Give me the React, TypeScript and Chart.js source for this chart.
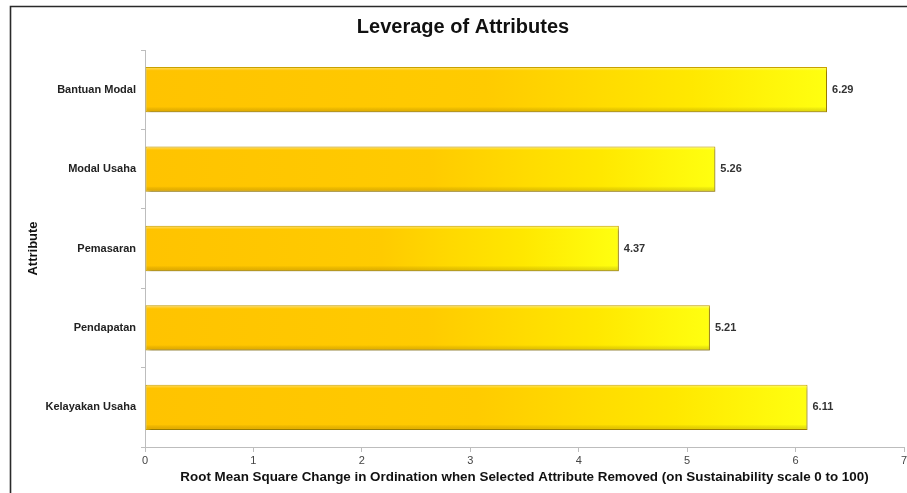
import React, { useEffect, useRef } from "react";
import { Chart, registerables } from "chart.js";

Chart.register(...registerables);

const categories = ["Bantuan Modal", "Modal Usaha", "Pemasaran", "Pendapatan", "Kelayakan Usaha"];
const values = [6.29, 5.26, 4.37, 5.21, 6.11];
const xTicks = [0, 1, 2, 3, 4, 5, 6, 7];
const titleText = "Leverage of Attributes";
const xTitle = "Root Mean Square Change in Ordination when Selected Attribute Removed (on Sustainability scale 0 to 100)";
const yTitle = "Attribute";

const FONT = "'Liberation Sans', Arial, sans-serif";

export default function App() {
  const ref = useRef<HTMLCanvasElement | null>(null);

  useEffect(() => {
    const canvas = ref.current;
    if (!canvas) return;

    const framePlugin = {
      id: "frame",
      beforeDraw(chart: any) {
        const c = chart.ctx;
        c.save();
        c.fillStyle = "#ffffff";
        c.fillRect(0, 0, chart.width, chart.height);
        c.strokeStyle = "#2a2a2a";
        c.lineWidth = 1.6;
        c.beginPath();
        c.moveTo(10.5, chart.height);
        c.lineTo(10.5, 6.5);
        c.lineTo(chart.width, 6.5);
        c.stroke();
        c.restore();
      },
      afterDraw(chart: any) {
        const c = chart.ctx;
        c.save();
        c.font = `bold 20px ${FONT}`;
        c.fillStyle = "#111";
        c.textAlign = "center";
        c.textBaseline = "middle";
        c.fillText(titleText, 463, 27);
        c.restore();
      },
    };

    const shadowPlugin = {
      id: "barShadow",
      beforeDatasetsDraw(chart: any) {
        const c = chart.ctx;
        c.save();
        c.shadowColor = "rgba(0,0,0,0.35)";
        c.shadowBlur = 3;
        c.shadowOffsetX = 2;
        c.shadowOffsetY = 2;
      },
      afterDatasetsDraw(chart: any) {
        const c = chart.ctx;
        c.restore();
        const meta = chart.getDatasetMeta(0);
        c.save();
        meta.data.forEach((bar: any, i: number) => {
          const x0 = bar.base;
          const x1 = bar.x;
          const top = bar.y - bar.height / 2;
          const h = bar.height;
          if (![x0, x1, top, h].every((v) => Number.isFinite(v))) return;
          const g = c.createLinearGradient(0, top, 0, top + h);
          g.addColorStop(0, "rgba(255,255,255,0.45)");
          g.addColorStop(0.08, "rgba(255,255,255,0.0)");
          g.addColorStop(0.88, "rgba(0,0,0,0)");
          g.addColorStop(1, "rgba(140,90,0,0.25)");
          c.fillStyle = g;
          c.fillRect(x0 + 1, top + 1, x1 - x0 - 2, h - 2);
          c.font = `bold 11px ${FONT}`;
          c.fillStyle = "#333";
          c.textAlign = "left";
          c.textBaseline = "middle";
          c.fillText(values[i].toFixed(2), x1 + 5, bar.y);
        });
        c.restore();
      },
    };

    const chart = new Chart(canvas, {
      type: "bar",
      data: {
        labels: categories,
        datasets: [
          {
            data: values,
            backgroundColor: (ctx: any) => {
              const ch = ctx.chart;
              const xs = ch.scales && ch.scales.x;
              if (!xs || ctx.dataIndex === undefined) return "#FFD000";
              const x0 = xs.getPixelForValue(0);
              const x1 = xs.getPixelForValue(values[ctx.dataIndex]);
              if (!Number.isFinite(x0) || !Number.isFinite(x1) || x1 === x0) return "#FFD000";
              const g = ch.ctx.createLinearGradient(x0, 0, x1, 0);
              g.addColorStop(0, "#FFC300");
              g.addColorStop(0.5, "#FFCB00");
              g.addColorStop(0.8, "#FFE800");
              g.addColorStop(1, "#FFFF10");
              return g;
            },
            borderColor: "#C9A200",
            borderWidth: 1,
            borderSkipped: false,
            categoryPercentage: 1,
            barPercentage: 0.57,
          },
        ],
      },
      options: {
        indexAxis: "y",
        responsive: false,
        animation: false,
        layout: { padding: { top: 50, right: 0, bottom: 0, left: 0 } },
        plugins: {
          legend: { display: false },
          title: { display: false },
          tooltip: { enabled: false },
        },
        scales: {
          x: {
            type: "linear",
            min: 0,
            max: 7,
            afterBuildTicks: (scale: any) => {
              scale.ticks = xTicks.map((v) => ({ value: v }));
            },
            afterFit: (scale: any) => {
              scale.height = 46;
              scale.paddingRight = 3;
            },
            grid: {
              drawOnChartArea: false,
              drawTicks: true,
              tickLength: 5,
              color: "#bdbdbd",
            },
            border: { display: true, color: "#bdbdbd", width: 1 },
            ticks: {
              font: { family: FONT, size: 11 },
              color: "#444",
              padding: 2,
              maxRotation: 0,
            },
            title: {
              display: true,
              text: xTitle,
              font: { family: FONT, size: 13.4, weight: "bold" },
              color: "#111",
              padding: { top: 0, bottom: 8 },
            },
          },
          y: {
            type: "category",
            afterFit: (scale: any) => {
              scale.width = 145;
            },
            grid: {
              drawOnChartArea: false,
              drawTicks: true,
              tickLength: 4,
              color: "#bdbdbd",
              offset: true,
            },
            border: { display: true, color: "#bdbdbd", width: 1 },
            ticks: {
              font: { family: FONT, size: 11, weight: "bold" },
              color: "#222",
              padding: 5,
            },
            title: {
              display: true,
              text: yTitle,
              font: { family: FONT, size: 13, weight: "bold" },
              color: "#111",
              padding: { top: 26, bottom: 0 },
            },
          },
        },
      },
      plugins: [framePlugin, shadowPlugin],
    } as any);

    return () => {
      chart.destroy();
    };
  }, []);

  return (
    <div style={{ position: "absolute", left: 0, top: 0, width: 907, height: 493, background: "#fff" }}>
      <canvas ref={ref} width={907} height={493} style={{ display: "block" }} />
    </div>
  );
}
